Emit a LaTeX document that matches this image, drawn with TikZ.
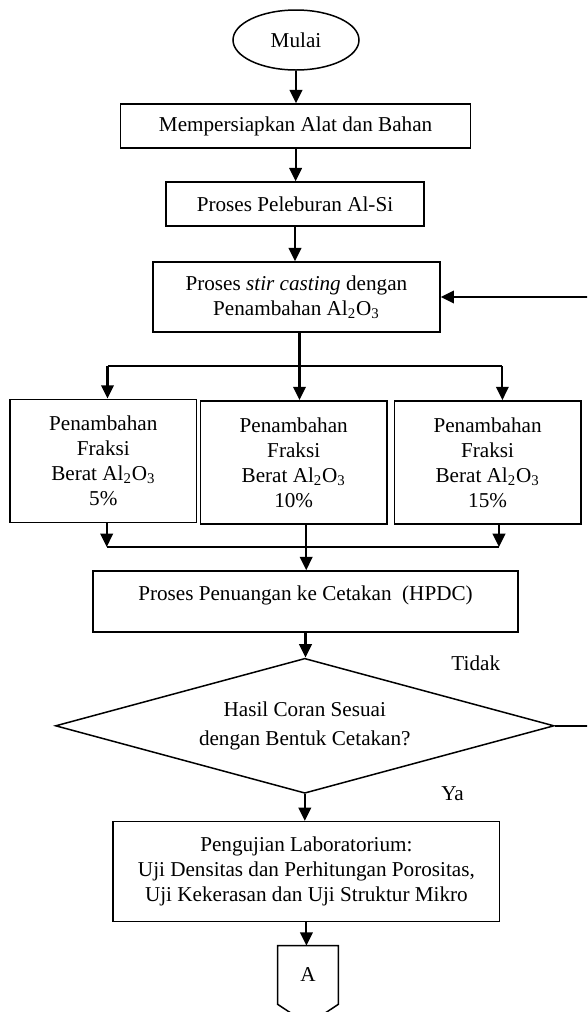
\documentclass[tikz,border=0pt]{standalone}
\usepackage{fontspec}
\setmainfont{Liberation Serif}
\usetikzlibrary{shapes.geometric,arrows.meta,calc}

\begin{document}
\begin{tikzpicture}[x=0.6pt,y=-0.6pt,
  every node/.style={font=\fontsize{12.7}{15}\selectfont,align=center},
  box/.style={draw,line width=0.9pt,inner sep=0pt},
  arr/.style={line width=1.3pt,-{Triangle[length=8pt,width=7.5pt]}},
  ln/.style={line width=1.3pt}]
\useasboundingbox (0,0) rectangle (587,1012);
\clip (0,0) rectangle (587,1012);
% Process steps
\node[box,ellipse,minimum width=75.6pt,minimum height=36pt] (mulai) at (296,40) {Mulai};
\node[box,minimum width=210pt,minimum height=26.4pt] (siap) at (295.6,126) {Mempersiapkan Alat dan Bahan};
\node[box,minimum width=154.8pt,minimum height=26.4pt] (lebur) at (295,204) {Proses Peleburan Al-Si};
\node[box,minimum width=172.2pt,minimum height=42pt] (stir) at (296.4,297) {Proses \textit{stir casting} dengan\\Penambahan Al\textsubscript{2}O\textsubscript{3}};
\foreach \n/\x/\y/\p in {fa/103.3/461/5, fb/293.7/462.5/10, fc/487.6/462.5/15}
  \node[box,minimum width=112pt,minimum height=74pt] (\n) at (\x,\y) {Penambahan\\Fraksi\\Berat Al\textsubscript{2}O\textsubscript{3}\\\p\%};
\node[box,minimum width=254.8pt,minimum height=36.6pt,text depth=10pt] (tuang) at (305.5,601.5) {Proses Penuangan ke Cetakan\ \ (HPDC)};
\node[box,diamond,aspect=3.7,minimum width=299.2pt,minimum height=81pt] (cek) at (304.8,725.8) {Hasil Coran Sesuai\\[2pt]dengan Bentuk Cetakan?};
\node[box,minimum width=232pt,minimum height=60pt] (uji) at (306.4,871.7) {Pengujian Laboratorium:\\Uji Densitas dan Perhitungan Porositas,\\Uji Kekerasan dan Uji Struktur Mikro};
\node[minimum width=36pt,minimum height=34.8pt,inner sep=0pt] (conA) at (308,975) {A};
\draw[line width=0.9pt] (conA.north west) -- (conA.north east) -- (conA.south east) -- ($(conA.south)+(0,20)$) -- (conA.south west) -- cycle;
% Labels
\node (tidak) at (475.8,663.3) {Tidak};
\node (ya) at (452.6,794) {Ya};
% Branch and merge points
\coordinate (br) at (299.5,366);
\coordinate (brL) at (107.5,366);
\coordinate (brR) at (502.4,366);
\coordinate (mgL) at (106.7,547);
\coordinate (mgM) at (306.2,547);
\coordinate (mgR) at (499,547);
\coordinate (balik) at (600,725.7);
% Connectors
\draw[arr] (mulai.south) -- (mulai.south |- siap.north);
\draw[arr] (siap.south) -- (siap.south |- lebur.north);
\draw[arr] (lebur.south) -- (lebur.south |- stir.north);
\draw[ln] (stir.south -| br) -- (br);
\draw[ln] (brL) -- (brR);
\draw[arr] (brL) -- (brL |- fa.north);
\draw[arr] (br) -- (br |- fb.north);
\draw[arr] (brR) -- (brR |- fc.north);
\draw[arr] (fa.south -| mgL) -- (mgL);
\draw[arr] (fc.south -| mgR) -- (mgR);
\draw[ln] (mgL) -- (mgR);
\draw[arr] (fb.south -| mgM) -- (mgM |- tuang.north);
\draw[arr] (tuang.south) -- (tuang.south |- cek.north);
\draw[arr] (cek.south) -- (cek.south |- uji.north);
\draw[arr] (uji.south) -- (uji.south |- conA.north);
% Loop back
\draw[arr] (cek.east) -- (cek.east -| balik) -- (balik |- stir.east) -- (stir.east);
\end{tikzpicture}
\end{document}
